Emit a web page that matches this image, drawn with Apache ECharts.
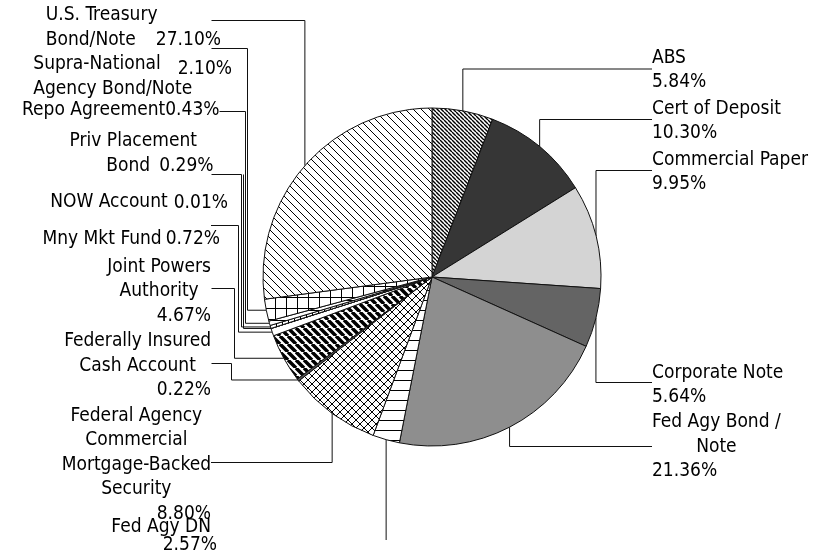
<!DOCTYPE HTML>
<html lang="en">

<head>
	<meta charset="utf-8">
	<title>Portfolio by security type</title>
	<script src="https://cdn.jsdelivr.net/npm/echarts@6/dist/echarts.min.js"></script>
	<style>
		html, body {
			margin: 0;
			padding: 0;
			background: #fff;
		}
		#main {
			width: 836px;
			height: 558px;
		}
	</style>
</head>

<body>
	<div id="main"></div>

	<script>
		// categories go clockwise from 12 o'clock; '\n' is where the label wraps
		var categories = [
			'ABS',
			'Cert of Deposit',
			'Commercial Paper',
			'Corporate Note',
			'Fed Agy Bond /\nNote',
			'Fed Agy DN',
			'Federal Agency\nCommercial\nMortgage-Backed\nSecurity',
			'Federally Insured\nCash Account',
			'Joint Powers\nAuthority',
			'Mny Mkt Fund',
			'NOW Account',
			'Priv Placement\nBond',
			'Repo Agreement',
			'Supra-National\nAgency Bond/Note',
			'U.S. Treasury\nBond/Note'
		];
		var percents = [5.84, 10.30, 9.95, 5.64, 21.36, 2.57, 8.80, 0.22, 4.67, 0.72, 0.01, 0.29, 0.43, 2.10, 27.10];

		// fill kinds: plain grey or a hatch drawn on a small canvas
		var fillKinds = ['hatchDark', '#363636', '#d4d4d4', '#646464', '#8e8e8e', 'horiz', 'cross',
			'#555555', 'hatchWide', '#ffffff', '#ffffff', 'vert', 'horiz', 'grid', 'hatchThin'];

		// where each label goes: x is the left edge (align left) or right edge (align right),
		// y the middle of the text; ly/lx/ex are the leader line's level, end and elbow
		var labelPos = [
			{ align: 'left', x: 652, y: 70, nameAlign: 'left', pctAlign: 'left', ly: 69, lx: 652 },
			{ align: 'left', x: 652, y: 121, nameAlign: 'left', pctAlign: 'left', ly: 119.5, lx: 652 },
			{ align: 'left', x: 652, y: 172, nameAlign: 'left', pctAlign: 'left', ly: 170.5, lx: 652 },
			{ align: 'left', x: 652, y: 385, nameAlign: 'left', pctAlign: 'left', ly: 382.5, lx: 652 },
			{ align: 'left', x: 652, y: 447, nameAlign: 'center', pctAlign: 'left', ly: 446.5, lx: 652 },
			{ align: 'right', x: 217, y: 536, nameAlign: 'right', pctAlign: 'right', shift: 6, lh: 18, ly: 540 },
			{ align: 'right', x: 211, y: 465, nameAlign: 'center', pctAlign: 'right', ly: 462.5, lx: 211 },
			{ align: 'right', x: 211, y: 366, nameAlign: 'center', pctAlign: 'right', ly: 363.5, lx: 211.5, ex: 231.5 },
			{ align: 'right', x: 211, y: 291.5, nameAlign: 'center', pctAlign: 'right', ly: 288.5, lx: 211.5, ex: 234.5 },
			{ align: 'right', x: 220, y: 239.5, nameAlign: 'right', pctAlign: 'right', inline: 0, gap: 4, ly: 225.5, lx: 211, ex: 238.5 },
			{ align: 'right', x: 228, y: 202, nameAlign: 'right', pctAlign: 'right', inline: 0, gap: 6, drop: 3, ly: 174.5, ex: 243.5 },
			{ align: 'right', x: 213.5, y: 153.5, nameAlign: 'right', pctAlign: 'right', inline: 1, gap: 9, shift: 16.5, ly: 174.5, lx: 211.5, ex: 241.5 },
			{ align: 'right', x: 219.5, y: 110.5, nameAlign: 'right', pctAlign: 'right', inline: 0, gap: 0, ly: 111.5, lx: 219.5, ex: 245.5 },
			{ align: 'right', x: 232, y: 76.5, nameAlign: 'left', pctAlign: 'left', inline: 0, gap: 17, drop: 10, ly: 48.5, lx: 211.5, ex: 247.5 },
			{ align: 'right', x: 221, y: 27.5, nameAlign: 'left', pctAlign: 'left', inline: 1, gap: 20, ly: 20.5, lx: 211.5 }
		];

		var FONT = "'DejaVu Sans Condensed', 'DejaVu Sans', sans-serif";

		function makeFill(kind) {
			if (kind.charAt(0) === '#') return kind;
			var sizes = { hatchDark: 4, hatchThin: 8, hatchWide: 8, cross: 8, horiz: 10, vert: 6, grid: 11 };
			var s = sizes[kind];
			var c = document.createElement('canvas');
			c.width = s;
			c.height = s;
			var g = c.getContext('2d');
			g.fillStyle = '#fff';
			g.fillRect(0, 0, s, s);
			g.strokeStyle = '#000';
			g.lineWidth = 1;
			g.beginPath();
			if (kind === 'hatchDark' || kind === 'hatchThin' || kind === 'hatchWide' || kind === 'cross') {
				if (kind === 'hatchDark') g.lineWidth = 1.4;
				if (kind === 'hatchWide') g.lineWidth = 3.5;
				[-s, 0, s].forEach(function (k) {
					g.moveTo(k, 0);
					g.lineTo(k + s, s);
					if (kind === 'cross') {
						g.moveTo(k + s, 0);
						g.lineTo(k, s);
					}
				});
			}
			if (kind === 'horiz' || kind === 'grid') {
				g.moveTo(0, 0.5);
				g.lineTo(s, 0.5);
			}
			if (kind === 'vert' || kind === 'grid') {
				g.moveTo(0.5, 0);
				g.lineTo(0.5, s);
			}
			g.stroke();
			return { image: c, repeat: 'repeat' };
		}

		function buildLabel(i) {
			var p = labelPos[i];
			var lines = categories[i].split('\n');
			var pct = percents[i].toFixed(2) + '%';
			var out = lines.map(function (t, k) {
				return '{' + (k === 0 && p.shift ? 'f' : 'n') + '|' + t + '}';
			});
			if (p.inline == null) out.push('{v|' + pct + '}');
			else out[p.inline] += '{v|' + pct + '}';
			var lh = p.lh || 24.5;
			var base = { fontFamily: FONT, fontSize: 19, color: '#000', lineHeight: lh };
			return {
				formatter: out.join('\n'),
				rich: {
					n: Object.assign({ align: p.nameAlign }, base),
					f: Object.assign({ align: p.nameAlign, padding: [0, p.shift || 0, 0, 0] }, base),
					v: Object.assign({ align: p.pctAlign, padding: [p.drop || 0, 0, 0, p.gap || 0] }, base)
				}
			};
		}

		var data = categories.map(function (name, i) {
			return {
				name: name,
				value: percents[i],
				itemStyle: { color: makeFill(fillKinds[i]) },
				label: buildLabel(i)
			};
		});

		var chart = echarts.init(document.getElementById('main'), null, { renderer: 'canvas' });

		chart.setOption({
			animation: false,
			backgroundColor: '#fff',
			series: [{
				type: 'pie',
				center: [432, 277],
				radius: 169,
				startAngle: 90,
				clockwise: true,
				avoidLabelOverlap: false,
				emphasis: { disabled: true },
				itemStyle: { borderColor: '#111', borderWidth: 1 },
				label: {
					show: true,
					position: 'outside',
					fontFamily: FONT,
					fontSize: 19,
					color: '#000'
				},
				labelLine: {
					show: true,
					smooth: false,
					lineStyle: { color: '#111', width: 1 }
				},
				labelLayout: function (params) {
					var p = labelPos[params.dataIndex];
					var s = params.labelLinePoints[0];   // rim point at the slice's middle angle
					var ex = p.ex == null ? s[0] : p.ex;
					var pts = [s, [ex, s[1]], [ex, p.ly]];
					if (p.lx != null) pts.push([p.lx, p.ly]);
					return {
						x: p.x,
						y: p.y,
						align: p.align,
						verticalAlign: 'middle',
						labelLinePoints: pts
					};
				},
				data: data
			}]
		});
	</script>
</body>

</html>
